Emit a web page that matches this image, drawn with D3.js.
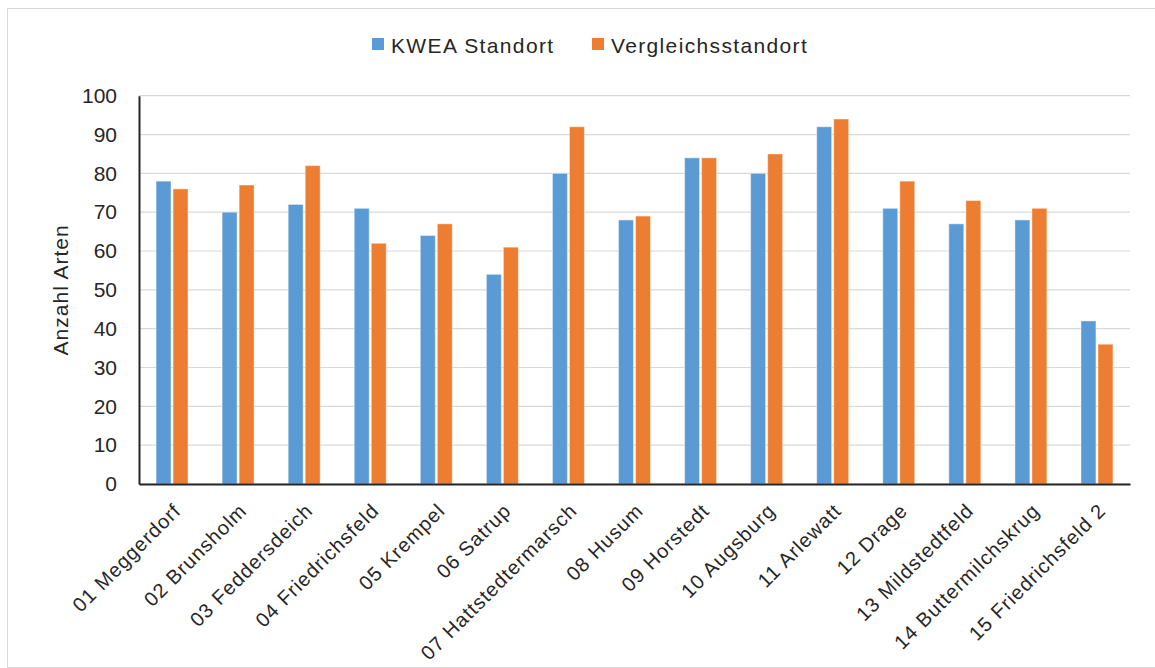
<!DOCTYPE html>
<html>
<head>
<meta charset="utf-8">
<script src="https://cdn.jsdelivr.net/npm/d3@7"></script>
<style>
  body { margin: 0; background: #fff; }
  svg { font-family: "Liberation Sans", Arial, sans-serif; }
</style>
</head>
<body>
<div id="chart"></div>
<script>
// Daten
var standorte = ["01 Meggerdorf", "02 Brunsholm", "03 Feddersdeich", "04 Friedrichsfeld", "05 Krempel",
  "06 Satrup", "07 Hattstedtermarsch", "08 Husum", "09 Horstedt", "10 Augsburg", "11 Arlewatt",
  "12 Drage", "13 Mildstedtfeld", "14 Buttermilchskrug", "15 Friedrichsfeld 2"]
var kwea = [78, 70, 72, 71, 64, 54, 80, 68, 84, 80, 92, 71, 67, 68, 42]
var vergleich = [76, 77, 82, 62, 67, 61, 92, 69, 84, 85, 94, 78, 73, 71, 36]
var serien = ["KWEA Standort", "Vergleichsstandort"]
var yTicks = [0, 10, 20, 30, 40, 50, 60, 70, 80, 90, 100]

var width = 1155
var height = 668
var margin = {top: 95, right: 25, bottom: 184, left: 139}

var svg = d3.select("#chart")
  .append("svg")
    .attr("width", width)
    .attr("height", height)

// Rahmen
svg.append("rect")
  .attr("x", 7.5).attr("y", 8.5)
  .attr("width", width).attr("height", height - 9)
  .attr("fill", "none")
  .attr("stroke", "#d9d9d9")

var color = d3.scaleOrdinal().domain(serien).range(["#5b9bd5", "#ed7d31"])

var x = d3.scaleBand()
  .domain(standorte)
  .range([margin.left, width - margin.right])

var x1 = d3.scaleBand()
  .domain(serien)
  .range([0, 32])
  .paddingInner(0.12)

var y = d3.scaleLinear()
  .domain([0, 100])
  .range([height - margin.bottom, margin.top + 0.7])

// Gitterlinien
svg.append("g")
  .selectAll("line")
  .data(yTicks)
  .enter()
  .append("line")
    .attr("x1", margin.left)
    .attr("x2", width - margin.right)
    .attr("y1", function(d){ return y(d) })
    .attr("y2", function(d){ return y(d) })
    .attr("stroke", "#d9d9d9")
    .attr("stroke-width", 1.2)

// Balken
var daten = standorte.map(function(s, i){
  return {name: s, werte: [{k: serien[0], v: kwea[i]}, {k: serien[1], v: vergleich[i]}]}
})

svg.append("g")
  .selectAll("g")
  .data(daten)
  .enter()
  .append("g")
    .attr("transform", function(d){ return "translate(" + (x(d.name) + x.bandwidth() / 2 - 16) + ",0)" })
  .selectAll("rect")
  .data(function(d){ return d.werte })
  .enter()
  .append("rect")
    .attr("x", function(d){ return x1(d.k) })
    .attr("width", x1.bandwidth())
    .attr("y", function(d){ return y(d.v) })
    .attr("height", function(d){ return y(0) - y(d.v) })
    .attr("fill", function(d){ return color(d.k) })
    .attr("stroke", "#fff")
    .attr("stroke-opacity", 0.45)
    .attr("stroke-width", 1)

// Achsen
var yAxis = svg.append("g")
  .attr("transform", "translate(" + margin.left + ",0)")
  .call(d3.axisLeft(y).tickValues(yTicks).tickSize(0).tickPadding(22))
yAxis.select(".domain").attr("stroke", "#262626").attr("stroke-width", 2)
yAxis.selectAll("text").attr("font-size", 21).attr("fill", "#262626").attr("font-family", "Liberation Sans, Arial, sans-serif")

var xAxis = svg.append("g")
  .attr("transform", "translate(0," + y(0) + ")")
  .call(d3.axisBottom(x).tickSize(0).tickPadding(0))
xAxis.select(".domain").attr("stroke", "#262626").attr("stroke-width", 2)
xAxis.selectAll("text")
  .attr("font-size", 20)
  .attr("letter-spacing", 1)
  .attr("fill", "#262626")
  .attr("font-family", "Liberation Sans, Arial, sans-serif")
  .attr("text-anchor", "end")
  .attr("dy", 0)
  .attr("transform", "translate(10,28) rotate(-45)")

// Achsentitel
svg.append("text")
  .attr("transform", "translate(68," + ((y(0) + y(100)) / 2) + ") rotate(-90)")
  .attr("text-anchor", "middle")
  .attr("font-size", 21)
  .attr("letter-spacing", 1)
  .attr("fill", "#262626")
  .text("Anzahl Arten")

// Legende
var legendeX = [372, 592]
var legende = svg.append("g")
legende.selectAll("rect")
  .data(serien)
  .enter()
  .append("rect")
    .attr("x", function(d, i){ return legendeX[i] })
    .attr("y", 38)
    .attr("width", 12)
    .attr("height", 12)
    .attr("fill", function(d){ return color(d) })
legende.selectAll("text")
  .data(serien)
  .enter()
  .append("text")
    .attr("x", function(d, i){ return legendeX[i] + 19 })
    .attr("y", 53)
    .attr("font-size", 21)
    .attr("letter-spacing", 1.35)
    .attr("fill", "#262626")
    .text(function(d){ return d })
</script>
</body>
</html>
